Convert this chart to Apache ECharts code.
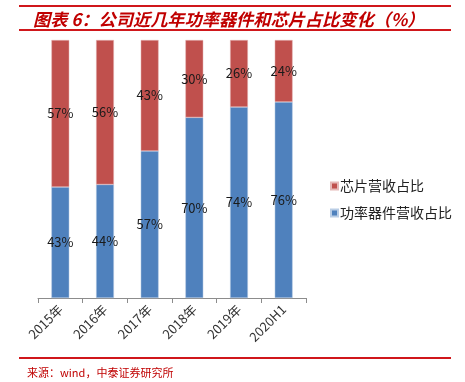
<!DOCTYPE html>
<html>
<head>
<meta charset="utf-8">
<script src="https://cdn.jsdelivr.net/npm/echarts@6/dist/echarts.min.js"></script>
<style>
  html, body { margin: 0; padding: 0; background: #fff; }
  #chart { width: 465px; height: 382px; }
</style>
</head>
<body>
<div id="chart"></div>
<script>
// 数据
var categories = ['2015年', '2016年', '2017年', '2018年', '2019年', '2020H1'];
var powerShare = [43, 44, 57, 70, 74, 76];   // 功率器件营收占比
var chipShare = [57, 56, 43, 30, 26, 24];    // 芯片营收占比

var myChart = echarts.init(document.getElementById('chart'));
var font = '"Noto Sans CJK SC", "Microsoft YaHei", sans-serif';

var option = {
    animation: false,
    backgroundColor: '#fff',
    title: {
        text: '图表 6：公司近几年功率器件和芯片占比变化（%）',
        left: 28,
        top: 6,
        textStyle: {
            color: '#C00000',
            fontSize: 17.2,
            fontWeight: 'bold',
            fontStyle: 'italic',
            fontFamily: font
        }
    },
    graphic: [
        { type: 'rect', shape: { x: 19, y: 5, width: 432, height: 2 }, style: { fill: '#D0171B' } },
        { type: 'rect', shape: { x: 19, y: 29, width: 432, height: 2 }, style: { fill: '#D0171B' } },
        { type: 'rect', shape: { x: 19, y: 357, width: 432, height: 2 }, style: { fill: '#D0171B' } },
        {
            type: 'text', left: 27, top: 367,
            style: { text: '来源：wind，中泰证券研究所', fill: '#C00000', fontSize: 11, fontFamily: font }
        }
    ],
    legend: {
        orient: 'vertical',
        left: 325,
        top: 174,
        itemWidth: 7,
        itemHeight: 7,
        itemGap: 13,
        icon: 'rect',
        data: ['芯片营收占比', '功率器件营收占比'],
        textStyle: { color: '#222', fontSize: 14, fontFamily: font, padding: [0, 0, 0, -3] }
    },
    grid: {
        left: 38,
        right: 159,
        top: 40,
        bottom: 84
    },
    xAxis: {
        type: 'category',
        data: categories,
        axisLine: { lineStyle: { color: '#8C8C8C' } },
        axisTick: { show: true, length: 5, lineStyle: { color: '#8C8C8C' } },
        axisLabel: {
            rotate: 45,
            color: '#333',
            fontSize: 13,
            margin: 9,
            fontFamily: font
        }
    },
    yAxis: {
        type: 'value',
        min: 0,
        max: 100,
        show: false
    },
    series: [{
        name: '功率器件营收占比',
        type: 'bar',
        stack: 'total',
        barWidth: '40%',
        data: powerShare,
        itemStyle: { color: '#4F81BD', borderColor: '#B9CDE5', borderWidth: 0.5 },
        label: {
            show: true,
            position: 'inside',
            formatter: '{c}%',
            color: '#1a1a1a',
            fontSize: 13,
            fontFamily: font
        }
    }, {
        name: '芯片营收占比',
        type: 'bar',
        stack: 'total',
        barWidth: '40%',
        data: chipShare,
        itemStyle: { color: '#C0504D', borderColor: '#E6B9B8', borderWidth: 0.5 },
        label: {
            show: true,
            position: 'inside',
            formatter: '{c}%',
            color: '#1a1a1a',
            fontSize: 13,
            fontFamily: font
        }
    }]
};
myChart.setOption(option);
</script>
</body>
</html>
